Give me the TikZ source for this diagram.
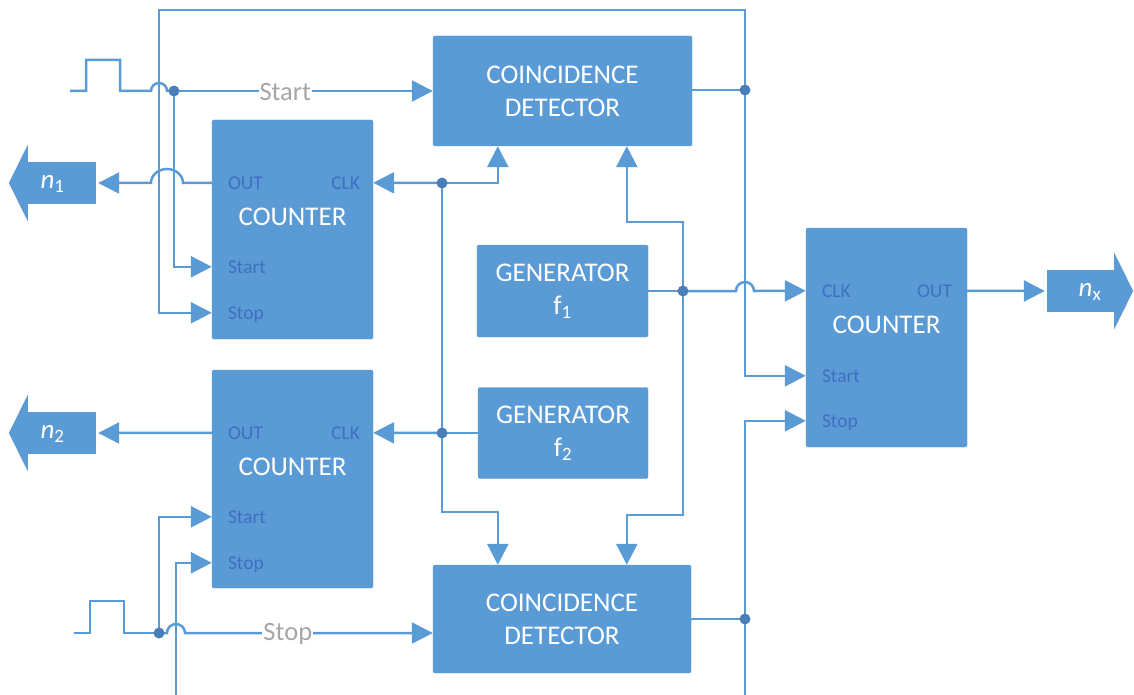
\documentclass[tikz,border=0pt]{standalone}
\usepackage{fontspec}
\setmainfont{Carlito}
\usetikzlibrary{arrows.meta,calc}
\definecolor{blk}{RGB}{91,155,213}
\definecolor{dotc}{RGB}{74,126,184}
\definecolor{portc}{RGB}{64,110,195}
\definecolor{lblgray}{RGB}{166,166,166}
\begin{document}
\begin{tikzpicture}[x=1pt,y=-1pt,
  wire/.style={draw=blk, line width=2.5pt},
  sig/.style={wire, -{Triangle[length=21pt,width=21pt]}},
  block/.style={fill=blk, draw=blk, rounded corners=1.5pt, inner sep=0pt,
    text=white, font=\fontsize{27}{33}\selectfont, align=center},
  port/.style={text=portc, font=\fontsize{19.5}{19.5}\selectfont, inner sep=0pt,
    text height=13pt, text depth=4pt},
  title/.style={text=white, font=\fontsize{27}{27}\selectfont, inner sep=0pt},
  glabel/.style={fill=white, text=lblgray, font=\fontsize{26.5}{26.5}\selectfont,
    inner sep=1pt, yshift=-1.5pt},
  junction/.style={circle, fill=dotc, inner sep=0pt, minimum size=11pt},
  outbody/.style={fill=blk, inner sep=0pt, minimum width=68pt, minimum height=42pt},
  outtext/.style={text=white, font=\fontsize{27}{27}\selectfont, inner sep=0pt}
]
\path[use as bounding box] (0,0) rectangle (1134,695);
\clip (0,0) rectangle (1134,695);

% ---- blocks ----
\node[block, minimum width=259pt, minimum height=110pt] (cd1) at (562.5,91) {COINCIDENCE\\DETECTOR};
\node[block, minimum width=258pt, minimum height=108pt] (cd2) at (562,619) {COINCIDENCE\\DETECTOR};
\node[block, minimum width=171pt, minimum height=92pt] (g1) at (562.5,291) {GENERATOR\\f\textsubscript{1}};
\node[block, minimum width=170pt, minimum height=91pt] (g2) at (563,433) {GENERATOR\\f\textsubscript{2}};
\node[block, minimum width=161pt, minimum height=219pt] (c1) at (292.5,229.5) {};
\node[block, minimum width=161pt, minimum height=218pt] (c2) at (292.5,479) {};
\node[block, minimum width=161pt, minimum height=219pt] (c3) at (886.5,337.5) {};

% ---- counter ports ----
\coordinate (c1out) at ($(c1.north west)+(0,63)$);
\coordinate (c1clk) at ($(c1.north east)+(0,63)$);
\coordinate (c1start) at ($(c1.north west)+(0,147)$);
\coordinate (c1stop) at ($(c1.north west)+(0,193)$);
\coordinate (c2out) at ($(c2.north west)+(0,63)$);
\coordinate (c2clk) at ($(c2.north east)+(0,63)$);
\coordinate (c2start) at ($(c2.north west)+(0,147)$);
\coordinate (c2stop) at ($(c2.north west)+(0,193)$);
\coordinate (c3clk) at ($(c3.north west)+(0,63)$);
\coordinate (c3out) at ($(c3.north east)+(0,63)$);
\coordinate (c3start) at ($(c3.north west)+(0,148)$);
\coordinate (c3stop) at ($(c3.north west)+(0,193)$);

\node[port, anchor=west] (c1outl) at ($(c1out)+(16,2)$) {OUT};
\node[port, anchor=east] (c1clkl) at ($(c1clk)+(-13,2)$) {CLK};
\node[port, anchor=west] (c1startl) at ($(c1start)+(16,2)$) {Start};
\node[port, anchor=west] (c1stopl) at ($(c1stop)+(16,2)$) {Stop};
\node[title] (c1t) at ($(c1.north)+(0,97)$) {COUNTER};

\node[port, anchor=west] (c2outl) at ($(c2out)+(16,2)$) {OUT};
\node[port, anchor=east] (c2clkl) at ($(c2clk)+(-13,2)$) {CLK};
\node[port, anchor=west] (c2startl) at ($(c2start)+(16,2)$) {Start};
\node[port, anchor=west] (c2stopl) at ($(c2stop)+(16,2)$) {Stop};
\node[title] (c2t) at ($(c2.north)+(0,97)$) {COUNTER};

\node[port, anchor=west] (c3clkl) at ($(c3clk)+(16,2)$) {CLK};
\node[port, anchor=east] (c3outl) at ($(c3out)+(-15,2)$) {OUT};
\node[port, anchor=west] (c3startl) at ($(c3start)+(16,2)$) {Start};
\node[port, anchor=west] (c3stopl) at ($(c3stop)+(16,2)$) {Stop};
\node[title] (c3t) at ($(c3.north)+(0,97)$) {COUNTER};

% ---- output arrows ----
\node[outbody] (n1) at (62,183) {};
\fill[blk] (n1.north west) -- ++(0,-17) -- ($(n1.west)+(-19,0)$) -- ($(n1.south west)+(0,17)$) -- (n1.south west) -- cycle;
\node[outtext] (n1t) at ($(n1.center)+(-9.5,1)$) {\itshape n\textsubscript{\upshape 1}};
\node[outbody] (n2) at (62,433) {};
\fill[blk] (n2.north west) -- ++(0,-17) -- ($(n2.west)+(-19,0)$) -- ($(n2.south west)+(0,17)$) -- (n2.south west) -- cycle;
\node[outtext] (n2t) at ($(n2.center)+(-9.5,1)$) {\itshape n\textsubscript{\upshape 2}};
\node[outbody, minimum width=67pt] (nx) at (1080.5,291) {};
\fill[blk] (nx.north east) -- ++(0,-17) -- ($(nx.east)+(19,0)$) -- ($(nx.south east)+(0,17)$) -- (nx.south east) -- cycle;
\node[outtext] (nxt) at ($(nx.center)+(9.5,1)$) {\itshape n\textsubscript{\upshape x}};

% ---- junctions ----
\coordinate (j1) at (174,91);
\coordinate (j2) at (442,183);
\coordinate (j3) at (745,90);
\coordinate (j4) at (442,433);
\coordinate (j5) at (683,291);
\coordinate (j6) at (159,633);
\coordinate (j7) at (745,619);
\coordinate (tl) at (159,10);
\coordinate (tr) at (745,10);
\coordinate (bl) at (176,696);
\coordinate (br) at (745,696);
\coordinate (cd1in1) at ($(cd1.south west)+(65,0)$);
\coordinate (cd1in2) at ($(cd1.south west)+(194,0)$);
\coordinate (cd2in1) at ($(cd2.north west)+(65,0)$);
\coordinate (cd2in2) at ($(cd2.north west)+(194,0)$);

% ---- start pulse ----
\coordinate (pin1) at (70,91);
\draw[wire] (pin1) -- (86,91) -- (86,60) -- (120,60) -- (120,91) -- (151,91)
  arc[start angle=180, end angle=360, radius=8] -- (j1);
\draw[sig] (j1) -- node[glabel, pos=0.43] (startl) {Start} (cd1.west |- j1);
\draw[sig] (j1) |- (c1start);

% ---- first coincidence detector output ----
\draw[wire] (cd1.east |- j3) -- (j3);
\draw[sig] (j3) -- (tr) -- (tl) |- (c1stop);
\draw[sig] (j3) |- (c3start);

% ---- counter 1 ----
\draw[sig, shorten >=2pt] (c1out) -- (183,183)
  arc[start angle=0, end angle=-180, x radius=16, y radius=14] -- (n1.east);
\draw[sig] (j2) -- (c1clk);
\draw[sig] (j2) -| (cd1in1);

% ---- generator f2 ----
\draw[wire] (j2) -- (j4);
\draw[wire] (g2.west |- j4) -- (j4);
\draw[sig] (j4) -- (c2clk);
\draw[sig] (j4) -- (442,512) -| (cd2in1);
\draw[sig, shorten >=2pt] (c2out) -- (n2.east);

% ---- generator f1 ----
\draw[wire] (g1.east) -- (j5);
\draw[sig] (j5) -- (736,291) arc[start angle=180, end angle=360, radius=9] -- (c3clk);
\draw[sig] (j5) -- (683,222) -| (cd1in2);
\draw[sig] (j5) -- (683,515) -| (cd2in2);

% ---- stop pulse ----
\coordinate (pin2) at (74,633);
\draw[wire] (pin2) -- (90,633) -- (90,601) -- (124,601) -- (124,633) -- (j6);
\draw[sig] (j6) -- (167,633) arc[start angle=180, end angle=360, radius=9]
  -- node[glabel, pos=0.415] (stopl) {Stop} (cd2.west |- j6);
\draw[sig] (j6) |- (c2start);

% ---- second coincidence detector output ----
\draw[wire] (cd2.east |- j7) -- (j7);
\draw[sig] (j7) |- (c3stop);
\draw[sig] (j7) -- (br) -- (bl) |- (c2stop);

% ---- counter 3 output ----
\draw[sig, shorten >=2pt] (c3out) -- (nx.west);

% ---- junction dots ----
\foreach \j in {j1,j2,j3,j4,j5,j6,j7}
  \node[junction] (\j dot) at (\j) {};
\end{tikzpicture}
\end{document}
